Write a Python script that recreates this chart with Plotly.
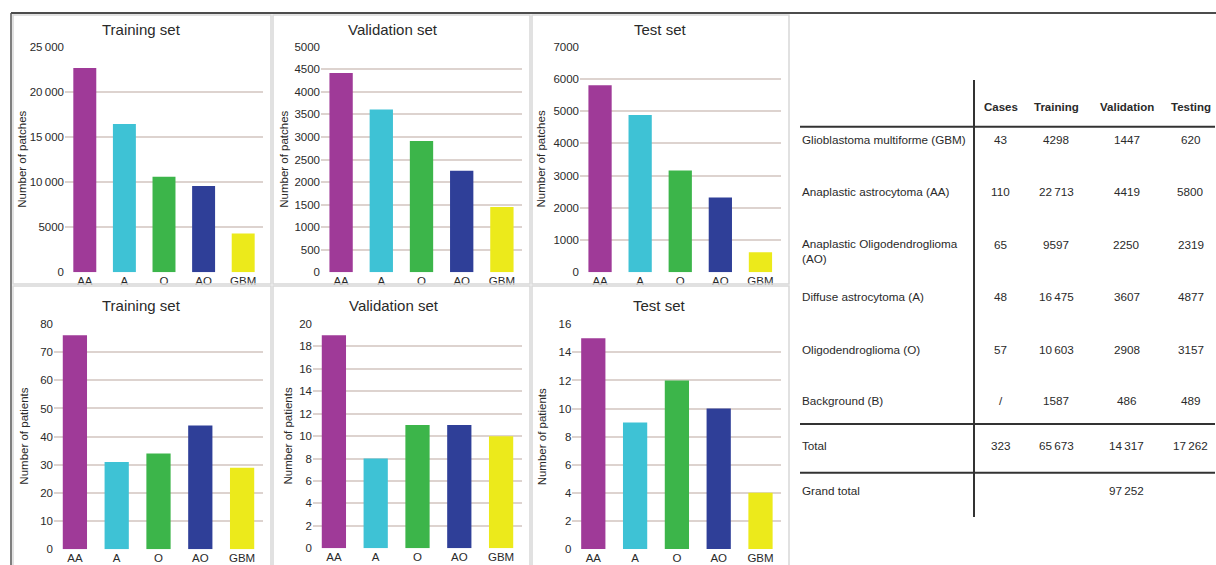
import plotly.graph_objects as go

W, H = 1216, 565
TS = "\u2009"

categories = ["AA", "A", "O", "AO", "GBM"]
bar_colors = ["#9f3a98", "#3ec2d5", "#3cb54a", "#2f3f98", "#ecea1b"]

train_patches = [22713, 16475, 10603, 9597, 4298]
val_patches = [4419, 3607, 2908, 2250, 1447]
test_patches = [5800, 4877, 3157, 2319, 620]
train_patients = [76, 31, 34, 44, 29]
val_patients = [19, 8, 11, 11, 10]
test_patients = [15, 9, 12, 10, 4]

panel_titles = ["Training set", "Validation set", "Test set",
                "Training set", "Validation set", "Test set"]
y_titles = ["Number of patches"] * 3 + ["Number of patients"] * 3

tick_vals_1 = [0, 5000, 10000, 15000, 20000, 25000]
tick_text_1 = ["0", "5000", "10" + TS + "000", "15" + TS + "000", "20" + TS + "000", "25" + TS + "000"]

table_header = ["Cases", "Training", "Validation", "Testing"]
table_labels = ["Glioblastoma multiforme (GBM)", "Anaplastic astrocytoma (AA)",
                "Anaplastic Oligodendroglioma<br>(AO)", "Diffuse astrocytoma (A)",
                "Oligodendroglioma (O)", "Background (B)", "Total", "Grand total"]
table_cases = ["43", "110", "65", "48", "57", "/", "323", ""]
table_training = ["4298", "22" + TS + "713", "9597", "16" + TS + "475", "10" + TS + "603", "1587", "65" + TS + "673", ""]
table_validation = ["1447", "4419", "2250", "3607", "2908", "486", "14" + TS + "317", "97" + TS + "252"]
table_testing = ["620", "5800", "2319", "4877", "3157", "489", "17" + TS + "262", ""]

series = [train_patches, val_patches, test_patches, train_patients, val_patients, test_patients]
y_ranges = [[0, 25000], [0, 5000], [0, 7000], [0, 80], [0, 20], [0, 16]]
y_dticks = [5000, 500, 1000, 10, 2, 2]

# layout (pixels)
x_dom_px = [(65, 263), (321, 522), (580, 780.5), (54, 263), (313, 522), (572.4, 781.4)]
y_dom_px = [(47.3, 272.3), (46.7, 272.3), (46.7, 272.3), (324, 549.3), (324, 548.3), (324.3, 549)]
title_pos = [(141.7, 29), (393.3, 29), (660, 29), (141.7, 305), (393.7, 305), (659.3, 305)]
ytitle_x = [22, 283.3, 540, 24, 288.3, 541.7]

FONT = "Liberation Sans, Arial, sans-serif"
TXT = "#2a2a2a"
GRID = "#ddd3cf"

fig = go.Figure()

def fx(px):
    return px / W

def fy(py):
    return 1 - py / H

layout = dict(
    width=W, height=H, margin=dict(l=0, r=0, t=0, b=0, pad=0, autoexpand=False),
    paper_bgcolor="white", plot_bgcolor="white",
    showlegend=False, bargap=0.42,
    font=dict(family=FONT, size=11, color=TXT),
)

annotations = []
shapes = []

for i in range(6):
    n = "" if i == 0 else str(i + 1)
    fig.add_trace(go.Bar(
        x=categories, y=series[i], marker=dict(color=bar_colors, line=dict(width=0)),
        xaxis="x" + n, yaxis="y" + n, hoverinfo="x+y",
    ))
    x0, x1 = x_dom_px[i]
    y0, y1 = y_dom_px[i]
    layout["xaxis" + n] = dict(
        domain=[fx(x0), fx(x1)], anchor="y" + n, showgrid=False, zeroline=False,
        showline=False, ticks="", tickfont=dict(size=11.5, color=TXT, family=FONT),
        fixedrange=True, automargin=False,
    )
    yax = dict(
        domain=[fy(y1), fy(y0)], anchor="x" + n, range=y_ranges[i],
        showgrid=True, gridcolor=GRID, gridwidth=1.5, zeroline=False, showline=False,
        ticks="", tickfont=dict(size=11.5, color=TXT, family=FONT), fixedrange=True,
        automargin=False,
    )
    if i == 0:
        yax.update(tickmode="array", tickvals=tick_vals_1, ticktext=tick_text_1)
    else:
        yax.update(tick0=0, dtick=y_dticks[i])
    layout["yaxis" + n] = yax

    tx, ty = title_pos[i]
    annotations.append(dict(
        text=panel_titles[i], x=fx(tx), y=fy(ty), xref="paper", yref="paper",
        showarrow=False, xanchor="center", yanchor="middle",
        font=dict(size=15, color=TXT, family=FONT),
    ))
    annotations.append(dict(
        text=y_titles[i], x=fx(ytitle_x[i]), y=fy((y0 + y1) / 2), xref="paper", yref="paper",
        showarrow=False, xanchor="center", yanchor="middle", textangle=-90,
        font=dict(size=11.5, color=TXT, family=FONT),
    ))

# panel borders
cols = [(13, 271), (273, 530), (532, 789)]
rows = [(15, 284), (286, 566)]
for (ra, rb) in rows:
    for (ca, cb) in cols:
        shapes.append(dict(type="rect", xref="paper", yref="paper",
                           x0=fx(ca), x1=fx(cb), y0=fy(rb), y1=fy(ra),
                           line=dict(color="#d8d8d8", width=1.5)))

# frame lines
shapes.append(dict(type="line", xref="paper", yref="paper", x0=fx(11), x1=1, y0=fy(13), y1=fy(13),
                   line=dict(color="#111", width=1.5)))
shapes.append(dict(type="line", xref="paper", yref="paper", x0=fx(11), x1=fx(11), y0=fy(13), y1=0,
                   line=dict(color="#555", width=1.5)))

# table
col_x = [1000.7, 1056, 1126.7, 1190.7]
label_x = 802
header_y = 106.7
row_y = [139, 191.7, 251, 296, 349.3, 400.7, 445.7, 490.7]
for j, h in enumerate(table_header):
    annotations.append(dict(text="<b>" + h + "</b>", x=fx(col_x[j]), y=fy(header_y),
                            xref="paper", yref="paper", showarrow=False,
                            xanchor="center", yanchor="middle",
                            font=dict(size=11.5, color=TXT, family=FONT)))
cols_data = [table_cases, table_training, table_validation, table_testing]
for r, lab in enumerate(table_labels):
    annotations.append(dict(text=lab, x=fx(label_x - 2), y=fy(row_y[r]), xref="paper", yref="paper",
                            showarrow=False, xanchor="left", yanchor="middle", align="left",
                            font=dict(size=11.7, color=TXT, family=FONT)))
    vy = row_y[r] if r != 2 else 244
    for j, col in enumerate(cols_data):
        if col[r]:
            annotations.append(dict(text=col[r], x=fx(col_x[j]), y=fy(vy), xref="paper", yref="paper",
                                    showarrow=False, xanchor="center", yanchor="middle",
                                    font=dict(size=11.7, color=TXT, family=FONT)))

shapes.append(dict(type="line", xref="paper", yref="paper", x0=fx(974), x1=fx(974),
                   y0=fy(517), y1=fy(80), line=dict(color="#333", width=2)))
for ly in [126.7, 424, 472.7]:
    shapes.append(dict(type="line", xref="paper", yref="paper", x0=fx(800), x1=fx(1215),
                       y0=fy(ly), y1=fy(ly), line=dict(color="#333", width=2)))

layout["annotations"] = annotations
layout["shapes"] = shapes
fig.update_layout(**layout)
fig.write_html("out.html", config={"displayModeBar": False},
               post_script="document.body.style.margin='0px';")
